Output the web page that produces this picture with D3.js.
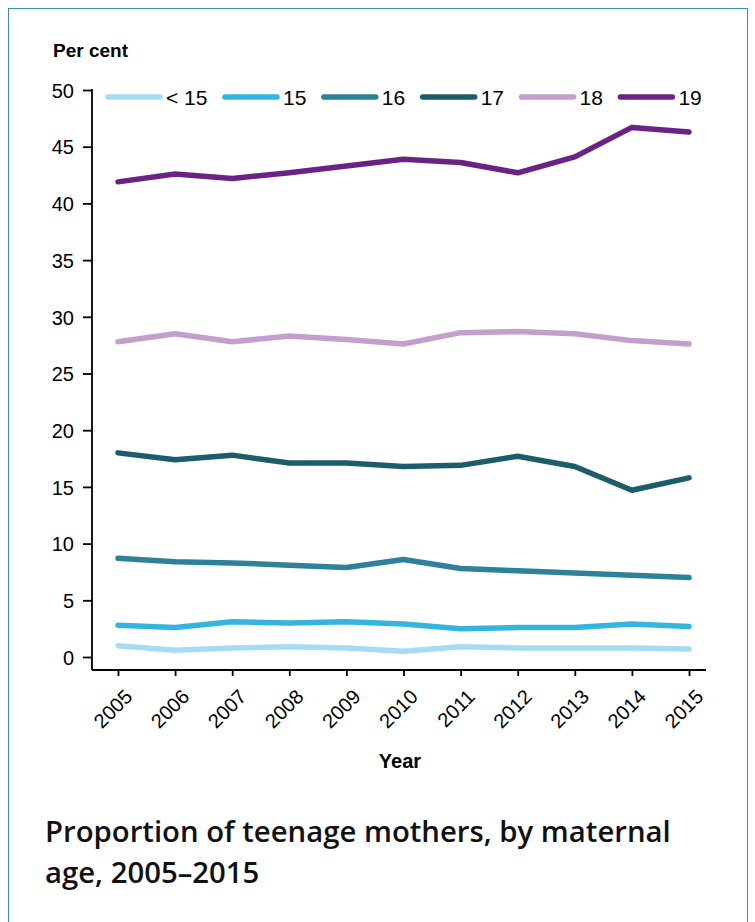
<!DOCTYPE html>
<html>
<head>
<meta charset="utf-8">
<script src="https://cdn.jsdelivr.net/npm/d3@7"></script>
<style>
  body { margin: 0; background: #fff; }
  svg { display: block; }
</style>
</head>
<body>
<svg></svg>
<script>
var width = 755;
var height = 922;

var years = [2005, 2006, 2007, 2008, 2009, 2010, 2011, 2012, 2013, 2014, 2015];
var seriesNames = ["< 15", "15", "16", "17", "18", "19"];
var under15 = [1.0, 0.6, 0.8, 0.9, 0.8, 0.5, 0.9, 0.8, 0.8, 0.8, 0.7];
var age15 = [2.8, 2.6, 3.1, 3.0, 3.1, 2.9, 2.5, 2.6, 2.6, 2.9, 2.7];
var age16 = [8.7, 8.4, 8.3, 8.1, 7.9, 8.6, 7.8, 7.6, 7.4, 7.2, 7.0];
var age17 = [18.0, 17.4, 17.8, 17.1, 17.1, 16.8, 16.9, 17.7, 16.8, 14.7, 15.8];
var age18 = [27.8, 28.5, 27.8, 28.3, 28.0, 27.6, 28.6, 28.7, 28.5, 27.9, 27.6];
var age19 = [41.9, 42.6, 42.2, 42.7, 43.3, 43.9, 43.6, 42.7, 44.1, 46.7, 46.3];
var yTicks = [0, 5, 10, 15, 20, 25, 30, 35, 40, 45, 50];

var colors = ["#a6dcf3", "#35b5de", "#2e8199", "#1d5c6b", "#c39fcd", "#6a2384"];
var allSeries = [under15, age15, age16, age17, age18, age19];

var font = "Liberation Sans, Arial, sans-serif";

var svg = d3.select("svg")
    .attr("width", width)
    .attr("height", height);

// outer frame
svg.append("rect")
    .attr("x", 8.5).attr("y", 8.5)
    .attr("width", 739).attr("height", 940)
    .attr("fill", "none")
    .attr("stroke", "#3a8fb0")
    .attr("stroke-width", 1);

var xscale = d3.scaleLinear()
    .domain([2005, 2015])
    .range([118, 689]);

var yscale = d3.scaleLinear()
    .domain([0, 50])
    .range([657, 90]);

var axisLeftX = 92;
var axisBottomY = 670;

// y axis
var yaxis = d3.axisLeft(yscale)
    .tickValues(yTicks)
    .tickSize(9)
    .tickPadding(9)
    .tickSizeOuter(0);

var gy = svg.append("g")
    .attr("transform", "translate(" + axisLeftX + ",0)")
    .call(yaxis);
gy.select(".domain").remove();
gy.append("line")
    .attr("x1", 0).attr("x2", 0)
    .attr("y1", 89).attr("y2", axisBottomY)
    .attr("stroke", "#000").attr("stroke-width", 1.8);
gy.selectAll(".tick line").attr("stroke-width", 1.8);
gy.selectAll(".tick text")
    .attr("font-family", font)
    .attr("font-size", 20)
    .attr("dy", "0.36em")
    .attr("fill", "#000");

// x axis
var xaxis = d3.axisBottom(xscale)
    .tickValues(years)
    .tickFormat(d3.format("d"))
    .tickSize(6)
    .tickSizeOuter(0);

var gx = svg.append("g")
    .attr("transform", "translate(0," + axisBottomY + ")")
    .call(xaxis);
gx.select(".domain").remove();
gx.append("line")
    .attr("x1", axisLeftX).attr("x2", 706)
    .attr("y1", 0).attr("y2", 0)
    .attr("stroke", "#000").attr("stroke-width", 1.8);
gx.selectAll(".tick line").attr("stroke-width", 1.8);
gx.selectAll(".tick text")
    .attr("font-family", font)
    .attr("font-size", 20)
    .attr("fill", "#000")
    .attr("text-anchor", "end")
    .attr("x", 0).attr("y", 0).attr("dy", 0)
    .attr("transform", "translate(15,28) rotate(-45)");

// axis titles
svg.append("text")
    .attr("x", 53).attr("y", 57)
    .attr("font-family", font)
    .attr("font-size", 19)
    .attr("font-weight", "bold")
    .text("Per cent");

svg.append("text")
    .attr("x", 400).attr("y", 768)
    .attr("text-anchor", "middle")
    .attr("font-family", font)
    .attr("font-size", 20)
    .attr("font-weight", "bold")
    .text("Year");

// lines
var line = d3.line()
    .x(function(d, i){ return xscale(years[i]); })
    .y(function(d){ return yscale(d); });

svg.selectAll(".series")
    .data(allSeries)
    .enter().append("path")
    .attr("class", "series")
    .attr("d", line)
    .attr("fill", "none")
    .attr("stroke", function(d, i){ return colors[i]; })
    .attr("stroke-width", 5.5)
    .attr("stroke-linecap", "round")
    .attr("stroke-linejoin", "round");

// legend: each item placed after the previous item's label
var legend = svg.selectAll(".legend")
    .data(seriesNames)
    .enter().append("g")
    .attr("class", "legend");

legend.append("line")
    .attr("x1", 0).attr("x2", 52)
    .attr("y1", 0).attr("y2", 0)
    .attr("stroke", function(d, i){ return colors[i]; })
    .attr("stroke-width", 5.5)
    .attr("stroke-linecap", "round");

legend.append("text")
    .attr("x", 58).attr("y", 7.5)
    .attr("font-family", font)
    .attr("font-size", 21)
    .text(function(d){ return d; });

var lx = 108;
legend.each(function(){
    var g = d3.select(this);
    g.attr("transform", "translate(" + lx + ",97)");
    lx += 58 + g.select("text").node().getComputedTextLength() + 17.5;
});

// chart title
var title = svg.append("text")
    .attr("font-family", "Open Sans, Noto Sans, sans-serif")
    .attr("font-size", 29.3)
    .attr("font-weight", 600)
    .attr("fill", "#111");
title.append("tspan").attr("x", 45).attr("y", 842).text("Proportion of teenage mothers, by maternal");
title.append("tspan").attr("x", 45).attr("y", 883).text("age, 2005\u20132015");
</script>
</body>
</html>
